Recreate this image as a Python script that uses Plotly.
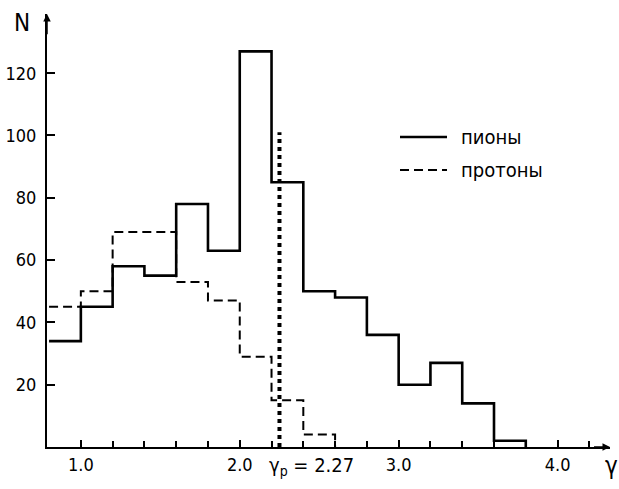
import plotly.graph_objects as go

# Bin edges (gamma) and counts
pion_edges = [0.8, 1.0, 1.2, 1.4, 1.6, 1.8, 2.0, 2.2, 2.4, 2.6, 2.8, 3.0, 3.2, 3.4, 3.6, 3.8]
pion_counts = [34, 45, 58, 55, 78, 63, 127, 85, 50, 48, 36, 20, 27, 14, 2]

proton_edges = [0.8, 1.0, 1.2, 1.4, 1.6, 1.8, 2.0, 2.2, 2.4, 2.6]
proton_counts = [45, 50, 69, 69, 53, 47, 29, 15, 4]

gamma_p_pos = [2.25, 2.25]
gamma_p_n = [0, 101]
gamma_p_label = "γ<sub>p</sub> = 2.27"

series_names = ["пионы", "протоны"]

x_tickvals = [1.0, 2.0, 3.0, 4.0]
x_ticktext = ["1.0", "2.0", "3.0", "4.0"]
x_minor = [1.2, 1.4, 1.6, 1.8, 2.2, 2.4, 2.6, 2.8, 3.2, 3.4, 3.6, 3.8, 4.2]
y_tickvals = [20, 40, 60, 80, 100, 120]

FONT = "Liberation Sans Narrow, DejaVu Sans Condensed, Arial Narrow, sans-serif"
W, H = 619, 489
ML, MR, MT, MB = 47, 9, 14, 42
PW, PH = W - ML - MR, H - MT - MB


def px(xp):
    return (xp - ML) / PW


def py(yp):
    return (H - MB - yp) / PH


SOLID = dict(color="black", width=2.6)
DASHED = dict(color="black", width=2, dash="9px,5px")

fig = go.Figure()
fig.add_trace(go.Scatter(
    x=pion_edges, y=pion_counts + [0], mode="lines", line_shape="hv",
    line=SOLID, name=series_names[0], showlegend=False))
fig.add_trace(go.Scatter(
    x=proton_edges, y=proton_counts + [0], mode="lines", line_shape="hv",
    line=DASHED, name=series_names[1], showlegend=False))
fig.add_trace(go.Scatter(
    x=gamma_p_pos, y=gamma_p_n, mode="lines",
    line=dict(color="black", width=4, dash="4px,4px"), showlegend=False))

fig.update_layout(
    width=W, height=H,
    margin=dict(l=ML, r=MR, t=MT, b=MB),
    paper_bgcolor="white", plot_bgcolor="white",
    font=dict(family=FONT, color="black", size=18),
    xaxis=dict(range=[0.787, 4.33], showgrid=False, zeroline=False,
               automargin=False,
               showline=True, linecolor="black", linewidth=2,
               tickmode="array", tickvals=x_tickvals, ticktext=x_ticktext,
               ticks="inside", ticklen=7, tickwidth=1.5, tickcolor="black",
               minor=dict(tickmode="array", tickvals=x_minor, ticks="inside",
                          ticklen=6, tickwidth=1.5, tickcolor="black"),
               tickfont=dict(size=18, family=FONT)),
    yaxis=dict(range=[0, 139], showgrid=False, zeroline=False,
               automargin=False,
               showline=True, linecolor="black", linewidth=2,
               tickmode="array", tickvals=y_tickvals,
               ticks="inside", ticklen=8, tickwidth=1.5, tickcolor="black",
               ticklabelstandoff=5,
               tickfont=dict(size=18, family=FONT)),
)

# manual legend
for i, (name, style, ypix) in enumerate([(series_names[0], SOLID, 137), (series_names[1], DASHED, 170)]):
    fig.add_shape(type="line", xref="paper", yref="paper",
                  x0=px(400), x1=px(447), y0=py(ypix), y1=py(ypix), line=style)
    fig.add_annotation(text=name, xref="paper", yref="paper", x=px(459), y=py(ypix),
                       xanchor="left", yanchor="middle", showarrow=False,
                       font=dict(size=20, family=FONT))

# axis arrows
fig.add_annotation(x=4.33, y=0, ax=4.22, ay=0, xref="x", yref="y", axref="x", ayref="y",
                   showarrow=True, arrowhead=2, arrowsize=1, arrowwidth=1.5,
                   arrowcolor="black", text="")
fig.add_annotation(x=0.787, y=139, ax=0.787, ay=132, xref="x", yref="y", axref="x", ayref="y",
                   showarrow=True, arrowhead=2, arrowsize=1, arrowwidth=1.5,
                   arrowcolor="black", text="")

fig.add_annotation(text="N", xref="paper", yref="paper", x=px(22), y=py(23),
                   xanchor="center", yanchor="middle", showarrow=False,
                   font=dict(size=24, family=FONT))
fig.add_annotation(text="γ", xref="paper", yref="paper", x=px(611), y=py(466),
                   xanchor="center", yanchor="middle", showarrow=False,
                   font=dict(size=24, family=FONT))
fig.add_annotation(text=gamma_p_label, xref="paper", yref="paper", x=px(311), y=py(466),
                   xanchor="center", yanchor="middle", showarrow=False,
                   font=dict(size=20, family=FONT))

fig.write_html("out.html")
